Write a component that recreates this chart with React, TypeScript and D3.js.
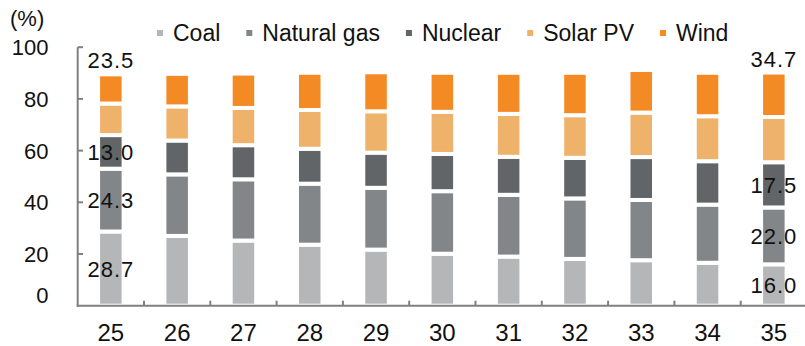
import React, { useEffect, useRef } from "react";
import * as d3 from "d3";

// Power generation mix by year (%)
const years = ["25", "26", "27", "28", "29", "30", "31", "32", "33", "34", "35"];
const coal = [28.7, 27.0, 25.2, 23.6, 21.7, 20.1, 19.0, 18.1, 17.6, 16.6, 16.0];
const naturalGas = [24.3, 23.8, 23.7, 23.6, 23.9, 24.2, 23.9, 23.4, 23.3, 22.5, 22.0];
const nuclear = [13.0, 13.1, 13.2, 13.5, 13.6, 14.4, 14.7, 15.7, 16.6, 16.8, 17.5];
const solarPV = [12.2, 13.2, 14.4, 15.0, 16.0, 16.3, 16.6, 16.5, 17.2, 17.4, 17.5];
const wind = [11.3, 12.6, 13.3, 14.4, 15.1, 15.1, 15.9, 16.4, 16.5, 16.8, 17.2];
const seriesNames = ["Coal", "Natural gas", "Nuclear", "Solar PV", "Wind"];
const yTicks = [0, 20, 40, 60, 80, 100];
const labelledYears = ["25", "35"];

const COLORS = ["#b5b6b8", "#838688", "#626568", "#efb26a", "#f38a24"];
const FONT = "'Liberation Sans', Arial, sans-serif";
const W = 805;
const H = 346;

export default function App() {
  const ref = useRef<SVGSVGElement | null>(null);

  useEffect(() => {
    const svg = d3.select(ref.current);
    svg.selectAll("*").remove();

    const values = [coal, naturalGas, nuclear, solarPV, wind];
    const rows = years.map((y, i) => {
      const r: any = { year: y };
      seriesNames.forEach((s, k) => (r[s] = values[k][i]));
      return r;
    });
    const stacked = d3.stack<any>().keys(seriesNames)(rows);

    const x = d3.scaleBand<string>().domain(years).range([77.7, 807]).paddingInner(0.615).paddingOuter(0.3075);
    const y = d3.scaleLinear().domain([0, 100]).range([305.7, 47.2]);
    const axisColor = "#808080";

    // bars
    stacked.forEach((layer, k) => {
      svg
        .append("g")
        .selectAll("rect")
        .data(layer)
        .join("rect")
        .attr("x", (d: any) => x(d.data.year)!)
        .attr("width", x.bandwidth())
        .attr("y", (d: any) => y(d[1]))
        .attr("height", (d: any) => y(d[0]) - y(d[1]))
        .attr("fill", COLORS[k])
        .attr("stroke", "#fff")
        .attr("stroke-width", 4);
    });

    // y axis
    const gy = svg.append("g");
    gy.append("line")
      .attr("x1", 77.7).attr("x2", 77.7)
      .attr("y1", y(100)).attr("y2", y(0) + 1)
      .attr("stroke", axisColor).attr("stroke-width", 2);
    yTicks.forEach((t) => {
      if (t > 0) {
        gy.append("line")
          .attr("x1", 77.7).attr("x2", 83)
          .attr("y1", y(t)).attr("y2", y(t))
          .attr("stroke", axisColor).attr("stroke-width", 2);
      }
      gy.append("text")
        .attr("x", 48.5)
        .attr("y", y(t) + (t === 0 ? -11 : 0))
        .attr("dy", "0.36em")
        .attr("text-anchor", "end")
        .attr("font-family", FONT)
        .attr("font-size", 22)
        .attr("fill", "#111")
        .text(t);
    });
    svg.append("text")
      .attr("x", 10).attr("y", 26)
      .attr("font-family", FONT).attr("font-size", 22).attr("fill", "#111")
      .text("(%)");

    // x axis
    const gx = svg.append("g");
    gx.append("line")
      .attr("x1", 76.7).attr("x2", W)
      .attr("y1", y(0)).attr("y2", y(0))
      .attr("stroke", axisColor).attr("stroke-width", 2);
    years.forEach((yr, i) => {
      const bx = (x(yr)! - x.step() * x.paddingInner() / 2) + x.step();
      if (i < years.length - 1) {
        gx.append("line")
          .attr("x1", bx).attr("x2", bx)
          .attr("y1", y(0)).attr("y2", y(0) - 5)
          .attr("stroke", axisColor).attr("stroke-width", 2);
      }
      gx.append("text")
        .attr("x", x(yr)! + x.bandwidth() / 2)
        .attr("y", 340.5)
        .attr("text-anchor", "middle")
        .attr("font-family", FONT)
        .attr("font-size", 24)
        .attr("fill", "#111")
        .text(yr);
    });

    // value labels
    const fmt = d3.format(".1f");
    labelledYears.forEach((yr) => {
      const i = years.indexOf(yr);
      const cx = x(yr)! + x.bandwidth() / 2;
      [0, 1, 2].forEach((k) => {
        const seg = stacked[k][i];
        svg.append("text")
          .attr("x", cx).attr("y", y((seg[0] + seg[1]) / 2))
          .attr("dy", "0.36em")
          .attr("text-anchor", "middle")
          .attr("font-family", FONT).attr("font-size", 22)
          .attr("letter-spacing", 1)
          .attr("fill", "#111")
          .text(fmt(values[k][i]));
      });
      const renew = solarPV[i] + wind[i];
      const top = stacked[4][i][1];
      svg.append("text")
        .attr("x", cx).attr("y", y(top) - 6)
        .attr("text-anchor", "middle")
        .attr("font-family", FONT).attr("font-size", 22)
        .attr("letter-spacing", 1)
        .attr("fill", "#111")
        .text(fmt(renew));
    });

    // legend
    const lg = svg.append("g");
    let lx = 157;
    seriesNames.forEach((s, k) => {
      lg.append("rect")
        .attr("x", lx).attr("y", 30)
        .attr("width", 6).attr("height", 6)
        .attr("fill", COLORS[k]);
      const t = lg.append("text")
        .attr("x", lx + 16).attr("y", 33)
        .attr("dy", "0.36em")
        .attr("font-family", FONT).attr("font-size", 23)
        .attr("fill", "#111")
        .text(s);
      const w = (t.node() as SVGTextElement).getComputedTextLength();
      lx += 16 + w + 26;
    });
  }, []);

  return (
    <svg
      ref={ref}
      width={W}
      height={H}
      style={{ position: "absolute", left: 0, top: 0, background: "#fff" }}
    />
  );
}
